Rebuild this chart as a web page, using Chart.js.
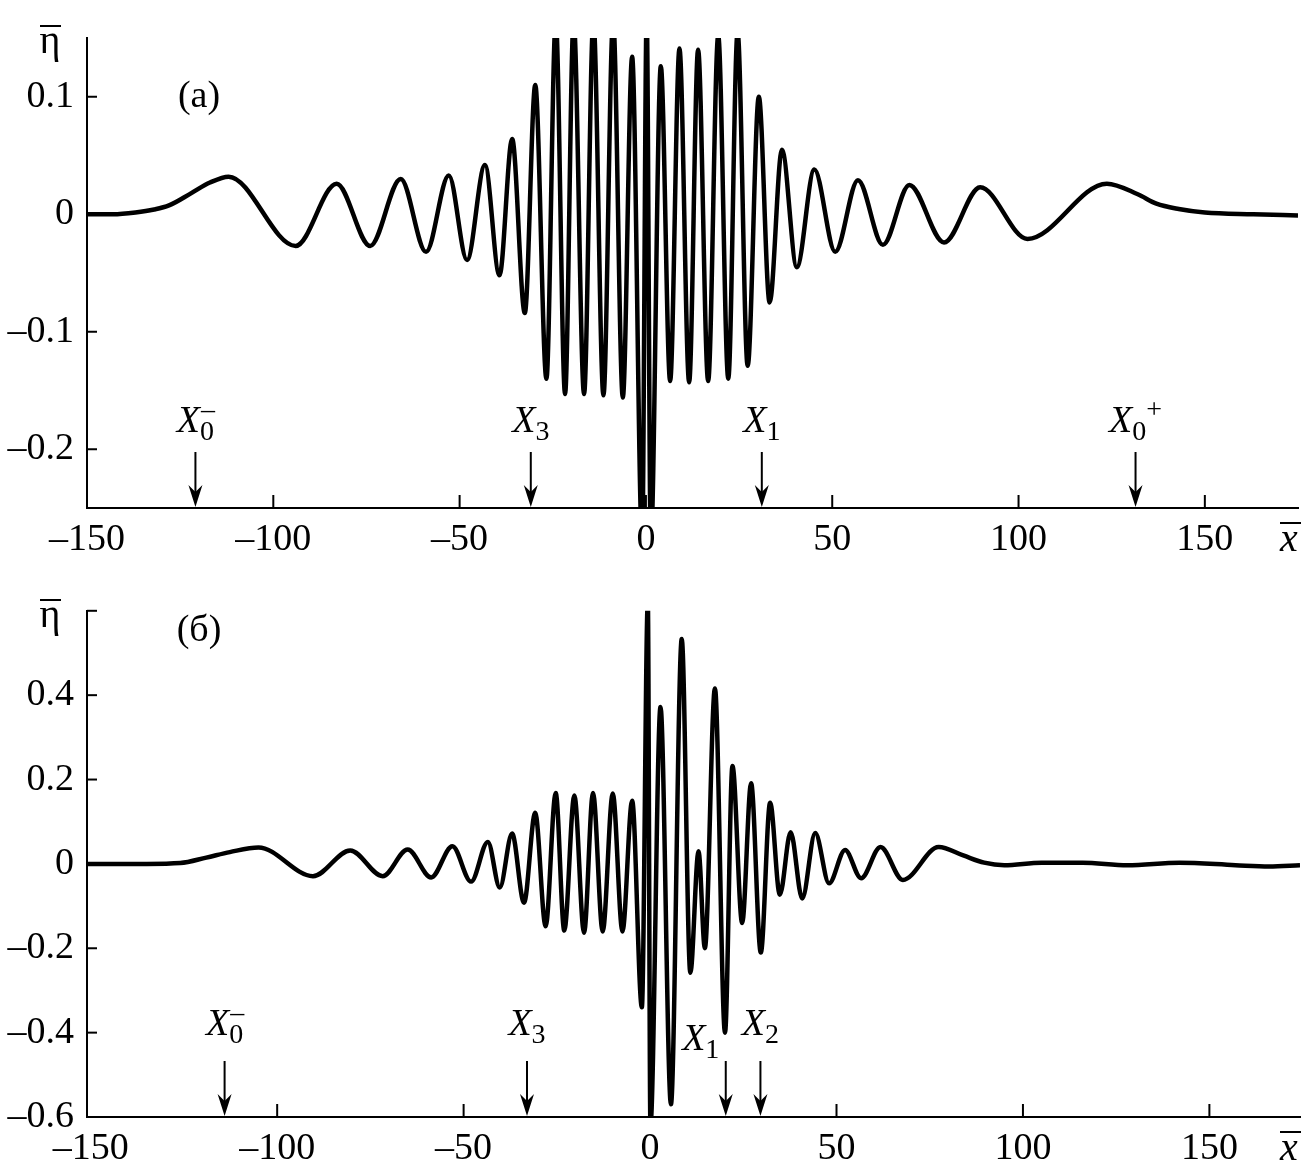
<!DOCTYPE html>
<html lang="ru">
<head>
<meta charset="UTF-8">
<title>eta(x)</title>
<script src="https://cdn.jsdelivr.net/npm/chart.js"></script>
<style>
  body { margin: 0; background: #fff; }
  .panel { position: absolute; left: 0; width: 1314px; }
  #panelA { top: 0; height: 575px; }
  #panelB { top: 575px; height: 599px; }
</style>
</head>
<body>
<div class="panel" id="panelA"><canvas id="chartA"></canvas></div>
<div class="panel" id="panelB"><canvas id="chartB"></canvas></div>
<script>
// panel (a): turning points of the wave
const xA = [-150, -143, -137, -132, -128, -122, -117, -112, -94, -83, -74, -65.8, -59, -52.9, -48, -43.2,
  -39.3, -35.9, -32.5, -29.7, -26.7, -24.2, -21.7, -19.4, -16.6, -14.1, -11.4, -8.8, -6.2, -3.7, -1.0, 0.2,
  1.3, 4.0, 6.5, 9.0, 11.6, 14.0, 16.7, 19.4, 22.1, 24.6, 27.3, 30.3, 33.2, 36.5, 40.5, 45.2, 50.8, 56.9,
  63.6, 70.7, 80.0, 89.7, 102.4, 123.7, 132, 137, 143, 150, 163, 175];
const etaA = [0, 0, 0.0015, 0.004, 0.0075, 0.018, 0.027, 0.032, -0.027, 0.026, -0.027, 0.030, -0.032, 0.033, -0.039, 0.042,
  -0.052, 0.064, -0.084, 0.110, -0.140, 0.165, -0.153, 0.165, -0.153, 0.165, -0.154, 0.165, -0.156, 0.134, -0.28, 0.17,
  -0.28, 0.126, -0.142, 0.141, -0.143, 0.140, -0.142, 0.152, -0.140, 0.155, -0.129, 0.100, -0.075, 0.055, -0.045, 0.038, -0.032, 0.029,
  -0.026, 0.025, -0.024, 0.023, -0.021, 0.026, 0.017, 0.009, 0.0045, 0.0015, 0, -0.001];

// panel (б)
const xB = [-151, -135, -126, -119, -112.7, -105, -90.4, -80.4, -71.7, -65, -58.7, -53, -48, -43.5, -40.3, -37,
  -33.8, -30.8, -28, -25.3, -23, -20.3, -17.7, -15.3, -12.7, -10.0, -7.4, -4.8, -2.2, -0.6, 0.1, 2.8,
  5.6, 8.5, 10.8, 13.0, 14.7, 17.4, 20.1, 22.1, 24.7, 27.1, 29.7, 32.2, 34.8, 37.7, 40.8, 44.3, 48.0, 52.3,
  56.6, 61.8, 67.8, 77.4, 84, 89.6, 95, 105, 116, 128, 142, 157, 166, 174.3];
const etaB = [0, 0, 0.002, 0.015, 0.028, 0.039, -0.029, 0.032, -0.029, 0.034, -0.032, 0.042, -0.042, 0.052, -0.056, 0.072,
  -0.092, 0.121, -0.148, 0.168, -0.158, 0.162, -0.163, 0.168, -0.160, 0.167, -0.160, 0.150, -0.34, 0.62, -0.62, 0.372,
  -0.570, 0.533, -0.258, 0.03, -0.20, 0.416, -0.400, 0.232, -0.140, 0.191, -0.210, 0.145, -0.073, 0.075, -0.082, 0.073, -0.046, 0.033,
  -0.034, 0.040, -0.038, 0.040, 0.020, 0.003, -0.003, 0.003, 0.003, -0.003, 0.003, -0.003, -0.006, -0.003];

const xTicks = [-150, -100, -50, 0, 50, 100, 150];
const yTicksA = [-0.2, -0.1, 0, 0.1];
const yTicksB = [-0.6, -0.4, -0.2, 0, 0.2, 0.4, 0.6];

// arrow markers X_i on the x axis
const marksA = [-120.9, -30.9, 31.1, 131.4];
const namesA = [['0', '\u2013'], ['3', ''], ['1', ''], ['0', '+']];
const marksB = [-114.1, -33, 20.3, 29.6];
const namesB = [['0', '\u2013'], ['3', ''], ['1', ''], ['2', '']];

const SERIF = '"Liberation Serif", "Times New Roman", serif';
Chart.defaults.font.family = SERIF;
Chart.defaults.color = '#000';

function fmt(v) {
  if (v === 0.6) return '';
  return String(v).replace('-', '\u2013');
}

function drawName(ctx, cx, base, name) {
  const sub = name[0], sup = name[1];
  ctx.font = 'italic 38px ' + SERIF;
  const wX = ctx.measureText('X').width;
  ctx.font = '28px ' + SERIF;
  const wS = ctx.measureText(sub).width;
  const plus = sup === '+';
  const wAll = plus ? wX + wS + 16 : wX + wS;
  const x0 = cx - wAll / 2;
  ctx.textAlign = 'left';
  ctx.textBaseline = 'alphabetic';
  ctx.font = 'italic 38px ' + SERIF;
  ctx.fillText('X', x0, base);
  ctx.font = '28px ' + SERIF;
  ctx.fillText(sub, x0 + wX, base + 8);
  if (sup) ctx.fillText(sup, x0 + wX + (plus ? 14 : 1), base - 14);
}

const decor = {
  id: 'decor',
  afterDraw(chart, args, o) {
    const {ctx, chartArea: a, scales: {x, y}} = chart;
    const seg = (x1, y1, x2, y2) => { ctx.beginPath(); ctx.moveTo(x1, y1); ctx.lineTo(x2, y2); ctx.stroke(); };
    ctx.save();
    ctx.strokeStyle = '#000';
    ctx.fillStyle = '#000';
    ctx.lineWidth = 2;

    // ticks point inwards
    y.ticks.forEach(t => {
      const p = y.getPixelForValue(t.value);
      if (p < a.bottom - 2) seg(a.left, p, a.left + 10, p);
    });
    x.ticks.forEach(t => {
      const p = x.getPixelForValue(t.value);
      if (p > a.left + 6) seg(p, a.bottom, p, a.bottom - 13);
    });

    // arrows with labels
    o.marks.forEach((v, i) => {
      const px = x.getPixelForValue(v);
      const st = o.styles[i];
      const tip = a.bottom - 1;
      ctx.lineWidth = 2;
      seg(px, a.bottom - 56, px, tip - 12);
      ctx.beginPath();
      ctx.moveTo(px, tip);
      ctx.lineTo(px - 7, tip - 22);
      ctx.lineTo(px, tip - 15);
      ctx.lineTo(px + 7, tip - 22);
      ctx.closePath();
      ctx.fill();
      drawName(ctx, px + st.dx, a.bottom - st.base, o.names[i]);
    });

    // eta with bar
    ctx.font = '40px ' + SERIF;
    ctx.textAlign = 'center';
    ctx.textBaseline = 'alphabetic';
    ctx.fillText('\u03b7', o.etaX, o.etaY);
    ctx.lineWidth = 2;
    seg(o.etaX - 10, o.etaY - 27, o.etaX + 11, o.etaY - 27);

    // x with bar
    ctx.font = 'italic 40px ' + SERIF;
    ctx.fillText('x', o.xbarX, a.bottom + 43);
    seg(o.xbarX - 9, a.bottom + 15, o.xbarX + 12, a.bottom + 15);

    // panel letter
    ctx.font = '38px ' + SERIF;
    ctx.textBaseline = 'middle';
    ctx.fillText(o.panel, o.panelX, o.panelY);
    ctx.restore();
  }
};

function makeChart(id, xs, ys, cfg) {
  const pts = xs.map((v, i) => ({x: v, y: ys[i]}));
  return new Chart(document.getElementById(id), {
    type: 'scatter',
    data: {
      datasets: [{
        data: pts,
        showLine: true,
        borderColor: '#000',
        borderWidth: 4.5,
        pointRadius: 0,
        cubicInterpolationMode: 'monotone'
      }]
    },
    options: {
      responsive: true,
      maintainAspectRatio: false,
      animation: false,
      events: [],
      layout: { padding: { top: cfg.padTop, right: cfg.padRight, left: 0, bottom: 0 } },
      plugins: {
        legend: { display: false },
        tooltip: { enabled: false },
        decor: cfg.decor
      },
      scales: {
        x: {
          type: 'linear',
          min: cfg.xMin,
          max: cfg.xMax,
          afterBuildTicks: s => { s.ticks = xTicks.map(v => ({value: v})); },
          afterFit: s => { s.height = cfg.xHeight; },
          grid: { drawOnChartArea: false, drawTicks: false },
          border: { color: '#000', width: 2 },
          ticks: { autoSkip: false, maxRotation: 0, padding: 9, font: { size: 38 }, callback: fmt }
        },
        y: {
          type: 'linear',
          min: cfg.yMin,
          max: cfg.yMax,
          afterBuildTicks: s => { s.ticks = cfg.yTicks.map(v => ({value: v})); },
          afterFit: s => { s.width = 87; },
          grid: { drawOnChartArea: false, drawTicks: false },
          border: { color: '#000', width: 2 },
          ticks: { autoSkip: false, padding: 13, font: { size: 38 }, callback: fmt }
        }
      }
    },
    plugins: [decor]
  });
}

makeChart('chartA', xA, etaA, {
  xMin: -150, xMax: 175, yMin: -0.25, yMax: 0.15, yTicks: yTicksA,
  padTop: 38, padRight: 16, xHeight: 67,
  decor: {
    marks: marksA, names: namesA,
    styles: [{dx: 0, base: 76}, {dx: 0, base: 76}, {dx: 0, base: 76}, {dx: 0, base: 76}],
    etaX: 50, etaY: 53, xbarX: 1289, panel: '(a)', panelX: 199, panelY: 97
  }
});

makeChart('chartB', xB, etaB, {
  xMin: -151, xMax: 174.3, yMin: -0.6, yMax: 0.6, yTicks: yTicksB,
  padTop: 12, padRight: 14, xHeight: 57,
  decor: {
    marks: marksB, names: namesB,
    styles: [{dx: 0, base: 82}, {dx: 0, base: 82}, {dx: -25, base: 67}, {dx: 0, base: 82}],
    etaX: 50, etaY: 52, xbarX: 1289, panel: '(\u0431)', panelX: 199, panelY: 56
  }
});
</script>
</body>
</html>
